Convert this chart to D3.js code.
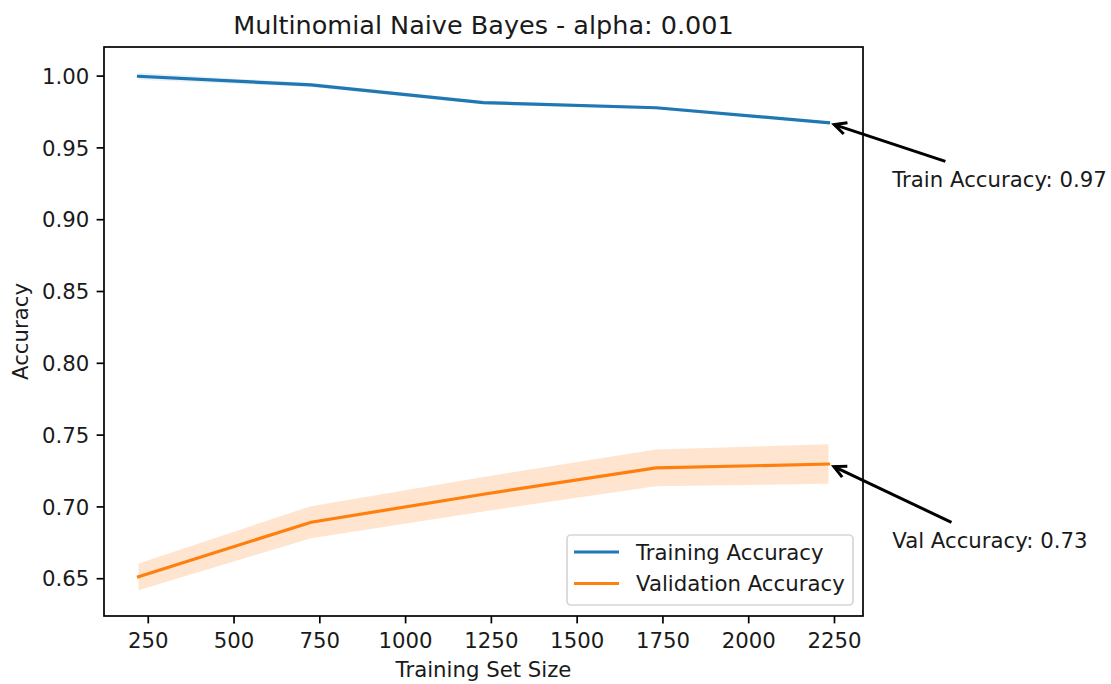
<!DOCTYPE html>
<html>
<head>
<meta charset="utf-8">
<script src="https://cdn.jsdelivr.net/npm/d3@7"></script>
<style>
  html, body { margin: 0; padding: 0; background: #fff; }
  svg text { font-family: "DejaVu Sans", sans-serif; fill: #1a1a1a; }
</style>
</head>
<body>
<svg id="chart" width="1111" height="684"></svg>
<script>
// Learning curve: training set sizes and cross-validated scores
const trainSizes = [223, 726, 1228, 1731, 2234];
const trainMean  = [0.9995, 0.9935, 0.9812, 0.9776, 0.9672];
const trainStd   = [0.0024, 0.0014, 0.0012, 0.0010, 0.0008];
const valMean    = [0.651, 0.689, 0.7085, 0.7268, 0.7295];
const valStd     = [0.0093, 0.0112, 0.0120, 0.0128, 0.0138];

const xTicks = [250, 500, 750, 1000, 1250, 1500, 1750, 2000, 2250];
const yTicks = [0.65, 0.70, 0.75, 0.80, 0.85, 0.90, 0.95, 1.00];

const titleText = "Multinomial Naive Bayes - alpha: 0.001";
const xLabel = "Training Set Size";
const yLabel = "Accuracy";
const seriesNames = ["Training Accuracy", "Validation Accuracy"];
const colors = ["#1f77b4", "#ff7f0e"];

const svg = d3.select("#chart");
const plot = { left: 104, right: 863, top: 47, bottom: 616 };

// 5% margins around the data extent on both axes
function padded(lo, hi) { const p = (hi - lo) * 0.05; return [lo - p, hi + p]; }
const xDom = padded(d3.min(trainSizes), d3.max(trainSizes));
const allLow  = trainMean.map((m, i) => m - trainStd[i]).concat(valMean.map((m, i) => m - valStd[i]));
const allHigh = trainMean.map((m, i) => m + trainStd[i]).concat(valMean.map((m, i) => m + valStd[i]));
const yDom = padded(d3.min(allLow), d3.max(allHigh));

const x = d3.scaleLinear().domain(xDom).range([plot.left, plot.right]);
const y = d3.scaleLinear().domain(yDom).range([plot.bottom, plot.top]);

const series = [
  { mean: trainMean, std: trainStd, color: colors[0], bandAlpha: 0.1 },
  { mean: valMean,   std: valStd,   color: colors[1], bandAlpha: 0.2 }
];

// Std bands
const area = d3.area()
  .x(d => x(d.s)).y0(d => y(d.m - d.sd)).y1(d => y(d.m + d.sd));
const line = d3.line().x(d => x(d.s)).y(d => y(d.m));

series.forEach(sr => {
  const pts = trainSizes.map((s, i) => ({ s, m: sr.mean[i], sd: sr.std[i] }));
  svg.append("path").attr("d", area(pts))
    .attr("fill", sr.color).attr("fill-opacity", sr.bandAlpha).attr("stroke", "none");
  sr.pts = pts;
});
series.forEach(sr => {
  svg.append("path").attr("d", line(sr.pts))
    .attr("fill", "none").attr("stroke", sr.color)
    .attr("stroke-width", 3.2).attr("stroke-linecap", "square");
});

// Axes
const tickLen = 7.4, tickPad = 7.4;
const xAxis = d3.axisBottom(x).tickValues(xTicks).tickFormat(d3.format("d"))
  .tickSize(tickLen).tickPadding(tickPad).tickSizeOuter(0);
const yAxis = d3.axisLeft(y).tickValues(yTicks).tickFormat(d3.format(".2f"))
  .tickSize(tickLen).tickPadding(tickPad).tickSizeOuter(0);

const gx = svg.append("g").attr("transform", `translate(0,${plot.bottom})`).call(xAxis);
const gy = svg.append("g").attr("transform", `translate(${plot.left},0)`).call(yAxis);
[gx, gy].forEach(g => {
  g.select(".domain").remove();
  g.selectAll(".tick line").attr("stroke", "#000").attr("stroke-width", 1.7);
  g.selectAll(".tick text").attr("font-size", 21.25).attr("fill", "#1a1a1a")
    .style("font-family", "DejaVu Sans, sans-serif");
});
gx.selectAll(".tick text").attr("dy", null).attr("y", tickLen + tickPad + 17);
gy.selectAll(".tick text").attr("dy", "0.36em");

// Frame
svg.append("rect")
  .attr("x", plot.left).attr("y", plot.top)
  .attr("width", plot.right - plot.left).attr("height", plot.bottom - plot.top)
  .attr("fill", "none").attr("stroke", "#000").attr("stroke-width", 1.7);

// Title and axis labels
svg.append("text").attr("x", (plot.left + plot.right) / 2).attr("y", 34)
  .attr("text-anchor", "middle").attr("font-size", 25.5).text(titleText);
svg.append("text").attr("x", (plot.left + plot.right) / 2).attr("y", 677)
  .attr("text-anchor", "middle").attr("font-size", 21.25).text(xLabel);
svg.append("text")
  .attr("transform", `translate(28,${(plot.top + plot.bottom) / 2}) rotate(-90)`)
  .attr("text-anchor", "middle").attr("font-size", 21.25).text(yLabel);

// Legend
const lg = { x: 567, y: 535, w: 286, h: 70 };
svg.append("rect").attr("x", lg.x).attr("y", lg.y).attr("width", lg.w).attr("height", lg.h)
  .attr("rx", 4).attr("fill", "#fff").attr("fill-opacity", 0.8)
  .attr("stroke", "#d6d6d6").attr("stroke-width", 1.7);
seriesNames.forEach((name, i) => {
  const cy = lg.y + 17 + i * 31.5;
  svg.append("line").attr("x1", lg.x + 7).attr("x2", lg.x + 52)
    .attr("y1", cy).attr("y2", cy).attr("stroke", colors[i]).attr("stroke-width", 3.2);
  svg.append("text").attr("x", lg.x + 69).attr("y", cy + 7.5)
    .attr("font-size", 21.25).text(name);
});

// Annotations of the final scores, text offset from the last point
const lastIdx = trainSizes.length - 1;
const notes = [
  { label: "Train Accuracy: ", value: trainMean[lastIdx], dx: 63.75, dy: 64 },
  { label: "Val Accuracy: ",   value: valMean[lastIdx],   dx: 63.75, dy: 84 }
];
notes.forEach(n => {
  const px = x(trainSizes[lastIdx]), py = y(n.value);
  const t = svg.append("text").attr("x", px + n.dx).attr("y", py + n.dy)
    .attr("font-size", 21.25).text(n.label + d3.format(".2f")(n.value));
  const bb = t.node().getBBox();
  const cx = bb.x + bb.width / 2, cy = bb.y + bb.height / 2;
  // clip the centre-to-point line to the text box top edge
  const topY = bb.y - 4;
  const fr = (cy - topY) / (cy - py);
  let tx = cx + (px - cx) * fr, ty = topY;
  const dx = px - tx, dy = py - ty, len = Math.hypot(dx, dy);
  const ux = dx / len, uy = dy / len;
  tx += ux * 4; ty += uy * 4;
  const hx = px - ux * 6, hy = py - uy * 6;
  svg.append("line").attr("x1", tx).attr("y1", ty).attr("x2", hx).attr("y2", hy)
    .attr("stroke", "#000").attr("stroke-width", 3);
  const hl = 12, hw = 6;
  const bx = hx - ux * hl, by = hy - uy * hl;
  svg.append("path")
    .attr("d", `M${bx - uy * hw},${by + ux * hw} L${hx},${hy} L${bx + uy * hw},${by - ux * hw}`)
    .attr("fill", "none").attr("stroke", "#000").attr("stroke-width", 3)
    .attr("stroke-linejoin", "miter");
});
</script>
</body>
</html>
